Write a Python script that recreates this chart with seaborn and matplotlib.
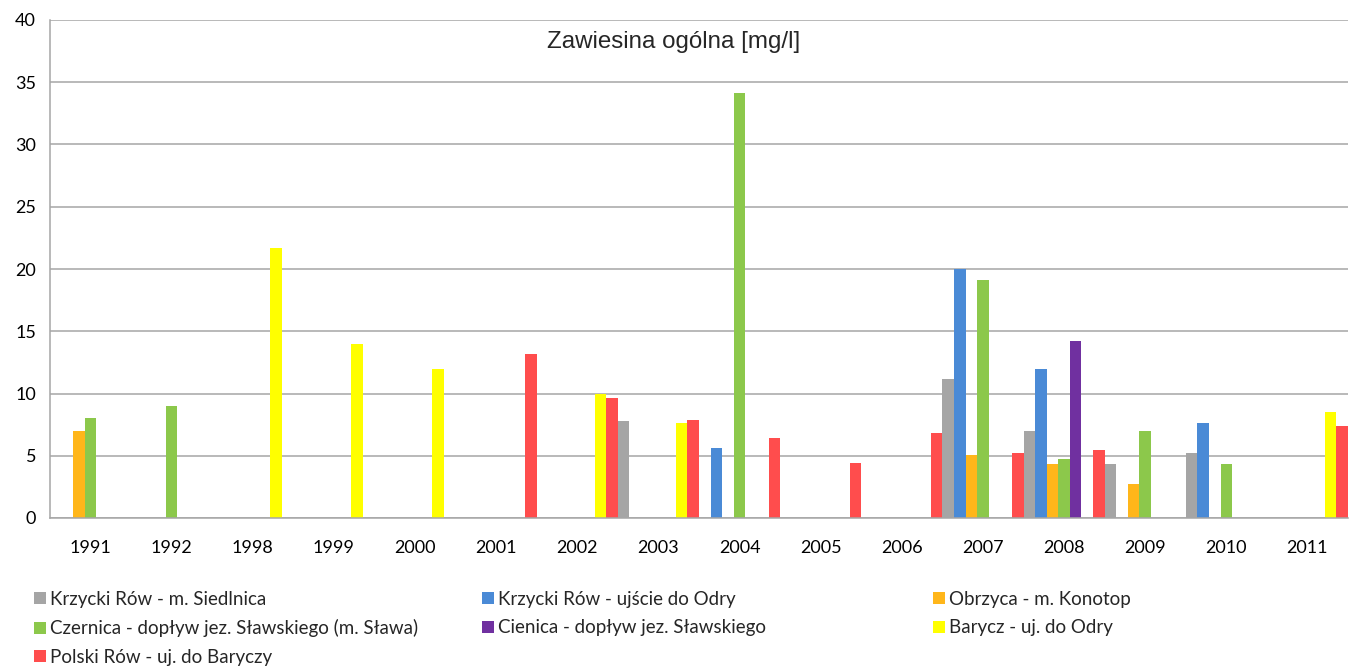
import numpy as np
import pandas as pd
import matplotlib
matplotlib.use("Agg")
import matplotlib.pyplot as plt
from matplotlib.patches import Patch
import seaborn as sns

years = ["1991", "1992", "1998", "1999", "2000", "2001", "2002", "2003",
         "2004", "2005", "2006", "2007", "2008", "2009", "2010", "2011"]

series = ["Krzycki Rów - m. Siedlnica",
          "Krzycki Rów - ujście do Odry",
          "Obrzyca - m. Konotop",
          "Czernica - dopływ jez. Sławskiego (m. Sława)",
          "Cienica - dopływ jez. Sławskiego",
          "Barycz - uj. do Odry",
          "Polski Rów - uj. do Baryczy"]

N = None
krzycki_siedlnica = [N, N, N, N, N, N, N, 7.8, N, N, N, 11.2, 7.0, 4.3, 5.2, N]
krzycki_ujscie    = [N, N, N, N, N, N, N, N, 5.6, N, N, 20.0, 12.0, N, 7.6, N]
obrzyca           = [7.0, N, N, N, N, N, N, N, N, N, N, 5.1, 4.3, 2.7, N, N]
czernica          = [8.0, 9.0, N, N, N, N, N, N, 34.1, N, N, 19.1, 4.7, 7.0, 4.3, N]
cienica           = [N, N, N, N, N, N, N, N, N, N, N, N, 14.2, N, N, N]
barycz            = [N, N, 21.7, 14.0, 12.0, N, 10.0, 7.6, N, N, N, N, N, N, N, 8.5]
polski_row        = [N, N, N, N, N, 13.2, 9.6, 7.9, 6.4, 4.4, 6.8, 5.2, 5.5, N, N, 7.4]

values = [krzycki_siedlnica, krzycki_ujscie, obrzyca, czernica, cienica, barycz, polski_row]
colors = ["#A5A5A5", "#4A8AD6", "#FFB61A", "#8CC84B", "#7030A0", "#FFFF00", "#FF4D4D"]

rows = []
for s, vals in zip(series, values):
    for y, v in zip(years, vals):
        if v is not None:
            rows.append({"year": y, "series": s, "value": v})
df = pd.DataFrame(rows)

sns.set_theme(style="white")
plt.rcParams["font.family"] = ["Lato", "DejaVu Sans"]

W, H = 1357, 670
fig = plt.figure(figsize=(W / 100, H / 100), dpi=100)
ax = fig.add_axes([50 / W, (H - 518) / H, 1298 / W, 498 / H])

sns.barplot(data=df, x="year", y="value", hue="series", order=years,
            hue_order=series, palette=colors, width=1.0, gap=0,
            saturation=1, errorbar=None, linewidth=0, legend=False, ax=ax)

ax.set_xlim(-0.5, len(years) - 0.5)
ax.set_ylim(0, 40)
ax.set_yticks(np.arange(0, 41, 5))
ax.yaxis.grid(True, color="#A6A6A6", linewidth=1.1)
ax.set_axisbelow(True)
ax.set_xlabel("")
ax.set_ylabel("")

ax.set_xticks(np.arange(len(years)))
ax.set_xticklabels(years)
ax.set_xticks(np.arange(-0.5, len(years) - 0.5, 1.0), minor=True)
ax.tick_params(axis="x", which="major", length=0, pad=16, labelsize=13, colors="black")
ax.tick_params(axis="x", which="minor", length=4, width=1, color="#A6A6A6", direction="out")
ax.tick_params(axis="y", length=5, width=1, labelsize=13, pad=5,
               labelcolor="black", color="#A6A6A6", direction="out")

for side in ["top", "right"]:
    ax.spines[side].set_visible(False)
for side in ["left", "bottom"]:
    ax.spines[side].set_color("#A6A6A6")
    ax.spines[side].set_linewidth(1.1)

fig.text(674 / W, 1 - 42 / H, "Zawiesina ogólna [mg/l]", ha="center", va="center",
         fontsize=17.4, family=["Liberation Sans", "DejaVu Sans"])

handles = [Patch(facecolor=c, edgecolor="none") for c in colors]
cols = [[0, 3, 6], [1, 4], [2, 5]]
xs = [34, 482, 933]
for xpos, idxs in zip(xs, cols):
    fig.legend([handles[i] for i in idxs], [series[i] for i in idxs],
               loc="upper left", bbox_to_anchor=(xpos / W, 1 - 591 / H),
               frameon=False, fontsize=13.5, handlelength=0.62, handleheight=0.62,
               handletextpad=0.25, labelspacing=0.6, borderpad=0, borderaxespad=0)

fig.savefig("out.png", dpi=100, facecolor="white")
